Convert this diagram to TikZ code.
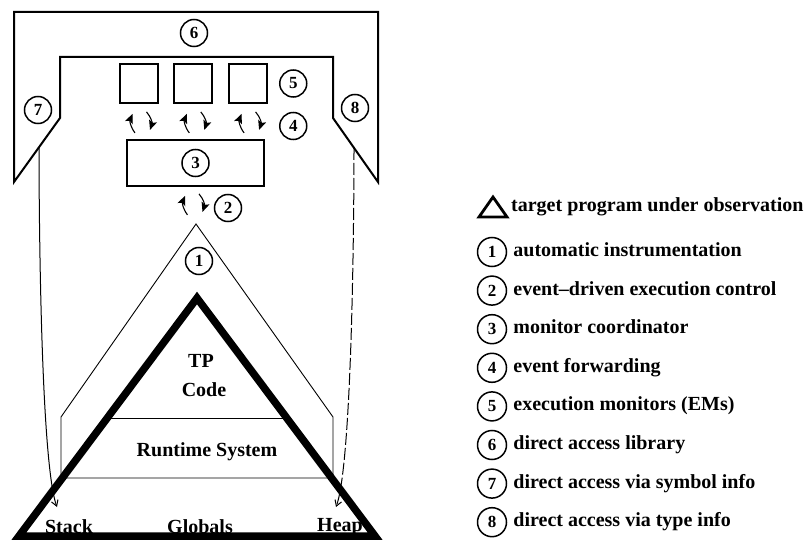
\documentclass[tikz,border=0pt]{standalone}
\usepackage{fontspec}
\setmainfont{Liberation Serif}
\usetikzlibrary{positioning, calc, arrows.meta}
\tikzset{
  > = {Stealth[length = 3.3mm, width = 2.9mm, inset = 0.7mm]},   % big filled heads on event paths
  tag/.style = {draw, circle, line width = 1.5pt, inner sep = 0pt,
    minimum size = 27pt, font = \fontsize{17}{17}\selectfont\bfseries},
  legtag/.style = {tag, minimum size = 29pt},
  monitor/.style = {draw, line width = 1.8pt, inner sep = 0pt,
    minimum width = 38pt, minimum height = 39pt},
  coordinator/.style = {monitor, minimum width = 137pt, minimum height = 46pt},
  library/.style = {line width = 2pt, line join = miter},
  target/.style = {line width = 7.5pt, line join = miter},
  instrument/.style = {line width = 0.9pt},
  event/.style = {->, line width = 1.1pt, bend left = 30},
  access/.style = {-{Straight Barb[length = 2mm, width = 2.4mm]}, line width = 1pt},
                        % free end stops in the stack / heap corner
  tptext/.style = {inner sep = 0pt, font = \fontsize{20}{22}\selectfont\bfseries},
  legtext/.style = {tptext, text height = 13pt, text depth = 4pt}
}
\def \legend {automatic instrumentation, event--driven execution control,
  monitor coordinator, event forwarding, execution monitors (EMs),
  direct access library, direct access via symbol info, direct access via type info}

\begin{document}
\begin{tikzpicture}[x = 1pt, y = 1pt]
\useasboundingbox (0, 0) rectangle (806, -540);

%% Direct access library
\draw [library] (14, -12) -- (378, -12) -- (378, -182) -- (333, -118) -- (333, -57)
  -- (60, -57) -- (60, -118) -- (14, -182) -- cycle;
\node [tag] (c6) at (194, -33) {6};
\node [tag] (c7) at (38, -110) {7};
\node [tag] (c8) at (355, -108) {8};

%% Execution monitors
\node [monitor] (em1) at (139, -83.5) {};
\node [monitor] (em2) [right = 14.5pt of em1] {};
\node [monitor] (em3) [right = 15pt of em2] {};
\node [tag] (c5) [right = 11pt of em3] {5};
\node [tag] (c4) [below = 14pt of c5] {4};

%% Monitor coordinator
\node [coordinator] (mc) at (195.5, -163) {};
\node [tag] (c3) at (mc) {3};

%% Event forwarding
\foreach \i in {1, 2, 3} {
  \coordinate (ev\i) at ($(em\i.south) + (1, -18)$);
  \draw [event] ($(ev\i) + (-5, -11)$) to ($(ev\i) + (-7.5, 8)$);
  \draw [event] ($(ev\i) + (6.5, 10)$) to ($(ev\i) + (10, -8)$);
}

%% Execution control
\coordinate (ev0) at ($(mc.south) + (-3, -17)$);
\draw [event] ($(ev0) + (-5, -11)$) to ($(ev0) + (-7.5, 8)$);
\draw [event] ($(ev0) + (6.5, 10)$) to ($(ev0) + (10, -8)$);
\node [tag] (c2) at (228, -208) {2};

%% Instrumentation
\draw [instrument] (196, -224) -- (61, -417) -- (61, -478) -- (333, -478)
  -- (333, -417) -- cycle;
\node [tag] (c1) at (199, -261) {1};

%% Target program
\coordinate (tpTop) at (197, -298);
\coordinate (tpLeft) at (19, -536);
\coordinate (tpRight) at (375, -536);
\draw [instrument] ($(tpTop) !.504! (tpLeft)$) -- ($(tpTop) !.504! (tpRight)$);
\draw [target] (tpTop) -- (tpLeft) -- (tpRight) -- cycle;
\node [tptext] (tp) at (201, -361) {TP};
\node [tptext] (code) at (204, -390) {Code};
\node [tptext] (rts) at (207, -452) {Runtime System};
\node [tptext] (stack) at (69, -527) {Stack};
\node [tptext] (globals) at (200, -527) {Globals};
\node [tptext] (heap) at (340, -527) {Heap};

%% Direct access paths
\coordinate (symsrc) at (39, -147);
\coordinate (symdst) at (57, -507);
\coordinate (typsrc) at (354, -148);
\coordinate (typdst) at (336, -507);
\draw [access] (symsrc) to [out = -90, in = 110, looseness = 0.35] (symdst);
\draw [access, dash pattern = on 12pt off 3pt]
  (typsrc) to [out = -90, in = 70, looseness = 0.35] (typdst);

%% Legend
\draw [line width = 2.8pt, line join = miter] (479, -217) -- (507, -217) -- (493, -197) -- cycle;
\node [tptext, anchor = west] (ltp) at (511, -207) {target program under observation};

\foreach \txt [count = \i, remember = \i as \lasti] in \legend {
  \ifnum \i = 1
    \node [legtag] (lc1) at (492, -252) {1};
  \else
    \node [legtag] (lc\i) [below = 8.1pt of lc\lasti] {\i};
  \fi
  \node [legtext] (lt\i) [right = 6pt of lc\i] {\txt};
}

\end{tikzpicture}
\end{document}
